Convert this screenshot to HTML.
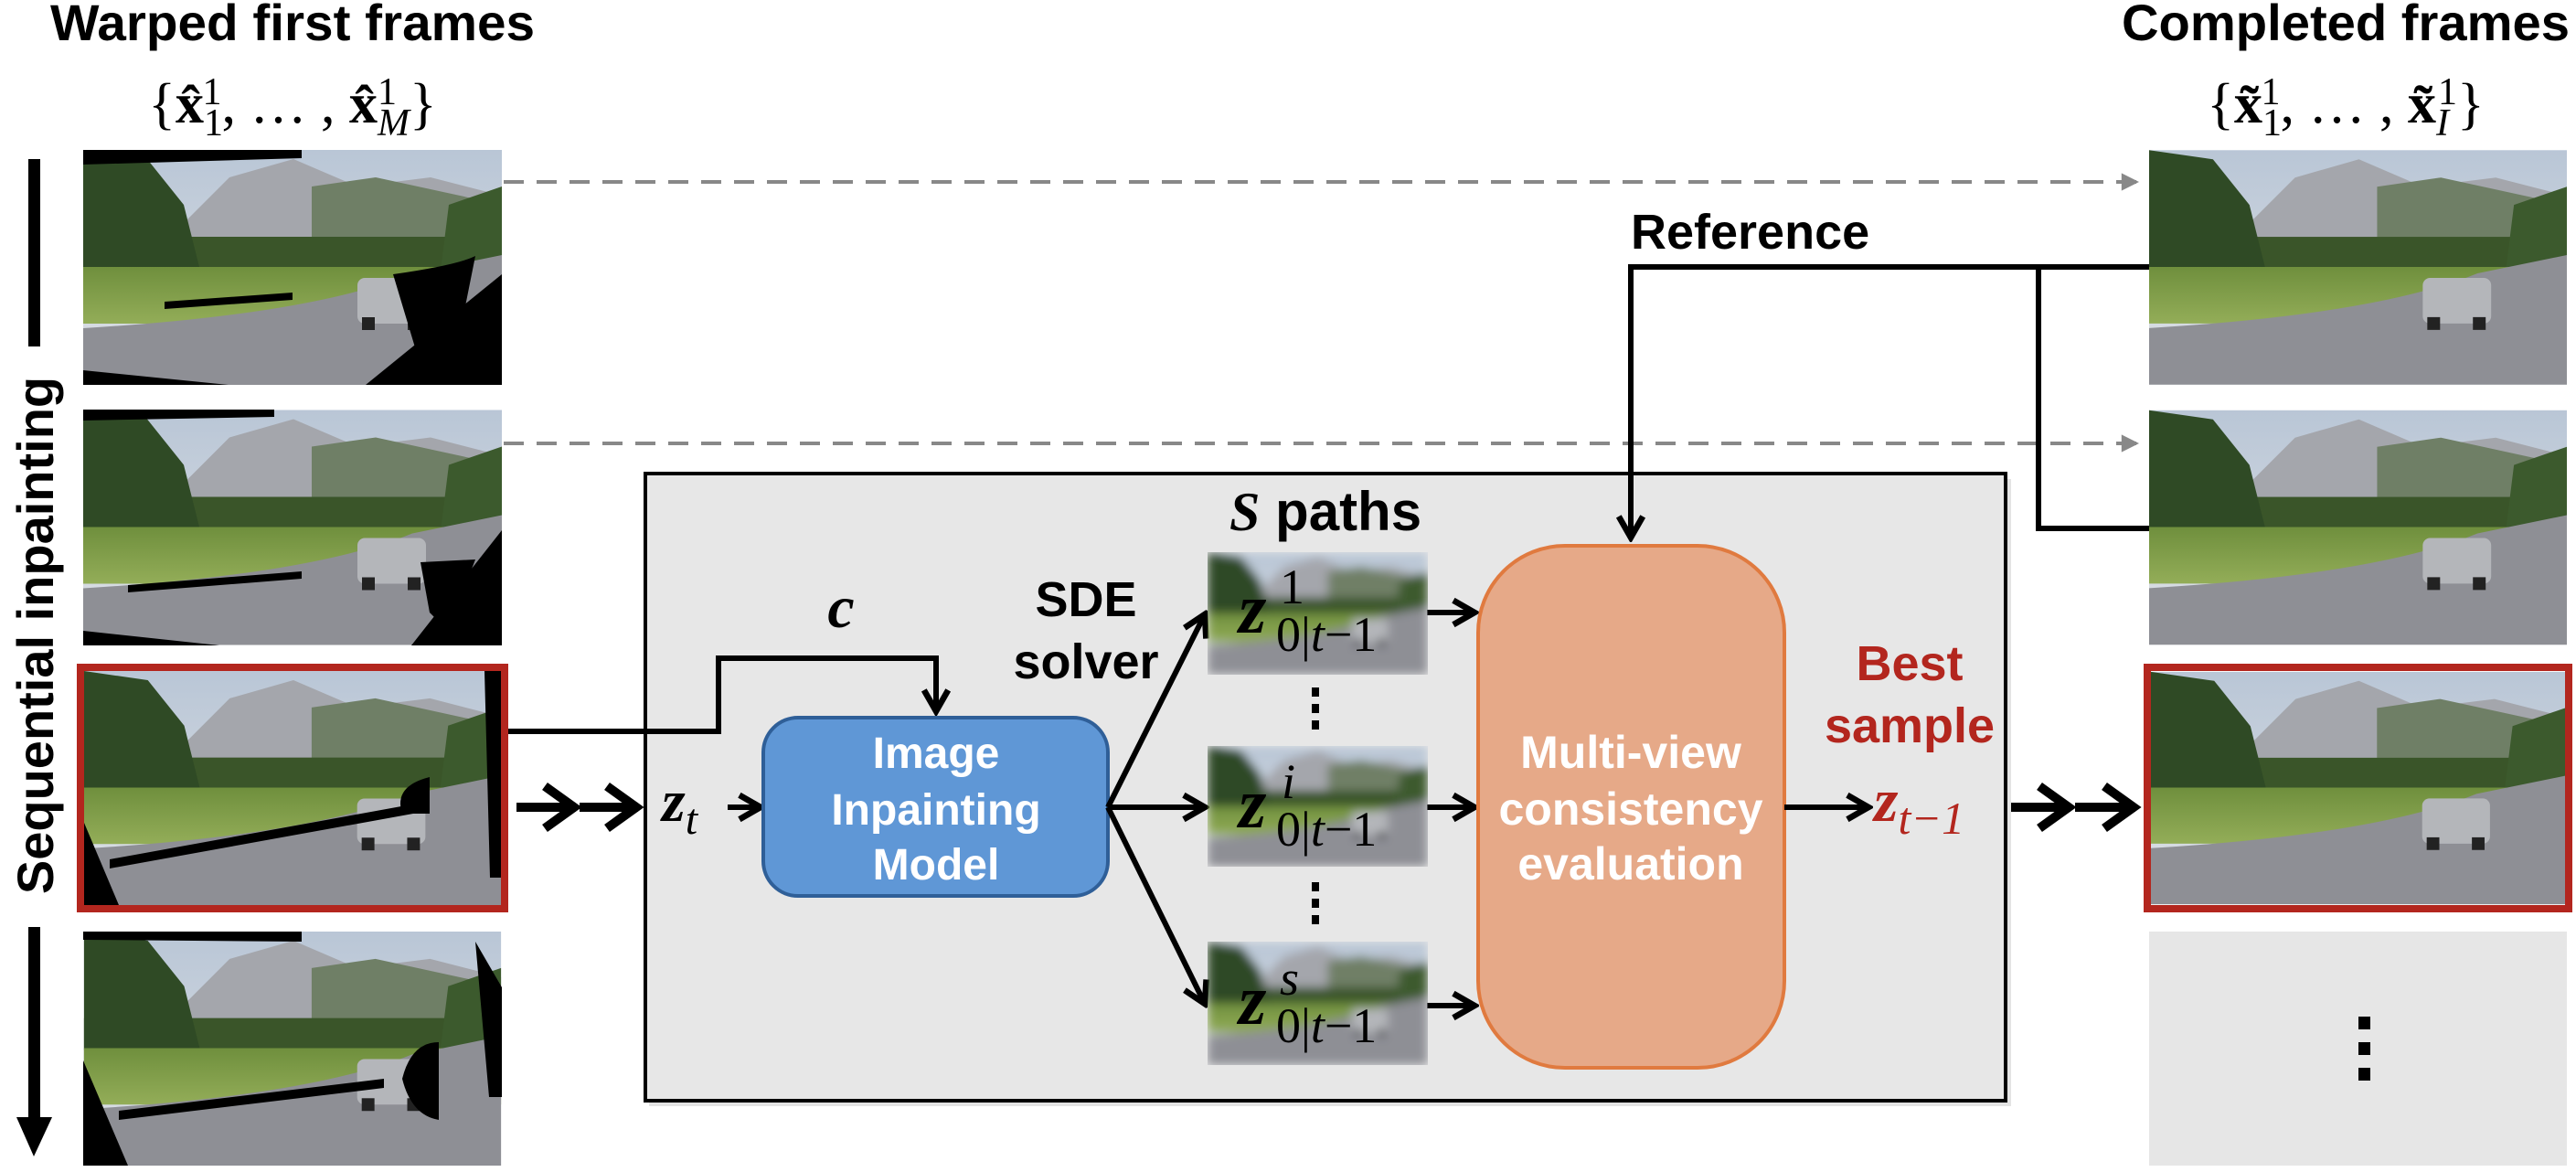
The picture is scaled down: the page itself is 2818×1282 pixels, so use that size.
<!DOCTYPE html>
<html><head><meta charset="utf-8"><style>
html,body{margin:0;padding:0;background:#fff;}
svg{display:block;font-weight:bold;}
text{font-family:"Liberation Sans",sans-serif;}
text.m,tspan.m{font-family:"Liberation Serif",serif;}
</style></head><body>
<svg width="2818" height="1282" viewBox="0 0 2818 1282" xmlns="http://www.w3.org/2000/svg">
<defs>
<linearGradient id="sky" x1="0" y1="0" x2="0" y2="1"><stop offset="0" stop-color="#b9c6d6"/><stop offset="1" stop-color="#dfe2e6"/></linearGradient>
<linearGradient id="grass" x1="0" y1="0" x2="0" y2="1"><stop offset="0" stop-color="#6f8f3d"/><stop offset="1" stop-color="#93ad58"/></linearGradient>
<symbol id="photo" viewBox="0 0 458 257">
<rect width="458" height="257" fill="url(#sky)"/>
<polygon points="80,110 160,30 230,10 300,40 380,30 458,50 458,120 80,120" fill="#a4a6ac"/>
<polygon points="250,40 320,30 458,60 458,120 250,120" fill="#6f7f66"/>
<rect x="0" y="95" width="458" height="35" fill="#3a5529"/>
<polygon points="0,0 70,10 110,60 130,140 0,150" fill="#2f4a25"/>
<polygon points="400,60 458,40 458,140 390,140" fill="#3c5a2d"/>
<rect x="0" y="128" width="458" height="62" fill="url(#grass)"/>
<path d="M0,195 Q250,180 360,135 L458,115 L458,257 L0,257 Z" fill="#8e8f95"/>
<rect x="300" y="140" width="75" height="50" rx="8" fill="#b4b6ba"/>
<rect x="305" y="183" width="14" height="14" fill="#222"/><rect x="355" y="183" width="14" height="14" fill="#222"/>
</symbol>
<filter id="bl" x="0" y="0" width="1" height="1"><feGaussianBlur stdDeviation="10" edgeMode="duplicate"/></filter>
<marker id="ah" viewBox="0 0 20 20" refX="17" refY="10" markerWidth="5.5" markerHeight="5.5" orient="auto" markerUnits="strokeWidth"><path d="M3,2 L17,10 L3,18" fill="none" stroke="#000" stroke-width="4"/></marker>
<marker id="ahg" viewBox="0 0 20 20" refX="18" refY="10" markerWidth="6" markerHeight="6" orient="auto" markerUnits="strokeWidth"><path d="M2,2 L18,10 L2,18 Z" fill="#888"/></marker>
</defs>

<!-- titles -->
<text x="320" y="44" font-size="56" text-anchor="middle" textLength="530" lengthAdjust="spacingAndGlyphs">Warped first frames</text>
<text class="m" x="320" y="134" font-size="62" text-anchor="middle" font-weight="normal">{<tspan font-weight="bold">x̂</tspan><tspan font-size="42" dy="14">1</tspan><tspan font-size="42" dy="-34" dx="-21">1</tspan><tspan dy="20">, … , </tspan><tspan font-weight="bold">x̂</tspan><tspan font-size="42" dy="14" font-style="italic">M</tspan><tspan font-size="42" dy="-34" dx="-35">1</tspan><tspan dy="20" dx="14">}</tspan></text>
<text x="2566" y="44" font-size="56" text-anchor="middle" textLength="490" lengthAdjust="spacingAndGlyphs">Completed frames</text>
<text class="m" x="2566" y="134" font-size="62" text-anchor="middle" font-weight="normal">{<tspan font-weight="bold">x̃</tspan><tspan font-size="42" dy="14">1</tspan><tspan font-size="42" dy="-34" dx="-21">1</tspan><tspan dy="20">, … , </tspan><tspan font-weight="bold">x̃</tspan><tspan font-size="42" dy="14" font-style="italic">I</tspan><tspan font-size="42" dy="-34" dx="-12">1</tspan><tspan dy="20">}</tspan></text>

<!-- sequential arrow -->
<rect x="31" y="174" width="13" height="205" fill="#000"/>
<rect x="31" y="1014" width="13" height="215" fill="#000"/>
<polygon points="18,1222 57,1222 37,1265" fill="#000"/>
<text x="0" y="0" font-size="56" text-anchor="middle" transform="translate(58,695) rotate(-90)">Sequential inpainting</text>

<!-- left frames -->
<use href="#photo" x="91" y="164" width="458" height="257"/>
<g fill="#000"><polygon points="91,164 330,164 330,173 91,180"/><polygon points="549,300 549,421 400,421"/><polygon points="91,405 250,421 91,421"/><path d="M430,300 Q500,290 520,280 L500,380 L460,400 Z"/><path d="M180,330 L320,320 L320,328 L180,338 Z"/></g>
<use href="#photo" x="91" y="448" width="458" height="258"/>
<g fill="#000"><polygon points="91,448 300,448 300,456 91,460"/><polygon points="549,580 549,706 450,706"/><polygon points="91,690 240,706 91,706"/><path d="M460,615 L520,612 L490,690 L470,670 Z"/><path d="M140,640 L330,625 L330,633 L140,648 Z"/></g>
<rect x="88" y="730" width="464" height="264" fill="none" stroke="#b3261e" stroke-width="8"/>
<use href="#photo" x="92" y="734" width="456" height="256"/>
<g fill="#000"><polygon points="530,734 548,734 548,960 536,960"/><polygon points="92,900 130,990 92,990"/><path d="M120,940 L450,880 L452,890 L120,950 Z"/><path d="M440,890 Q430,860 470,850 L470,890 Z"/></g>
<use href="#photo" x="91" y="1019" width="458" height="256"/>
<g fill="#000"><polygon points="91,1019 330,1019 330,1030 91,1028"/><polygon points="520,1030 549,1080 549,1200 535,1200"/><polygon points="91,1160 140,1275 91,1275"/><path d="M130,1215 L420,1180 L420,1190 L130,1225 Z"/><path d="M440,1180 Q450,1140 480,1140 L480,1225 Q450,1220 440,1180 Z"/></g>

<!-- right frames -->
<use href="#photo" x="2351" y="164" width="457" height="257"/>
<use href="#photo" x="2351" y="448" width="457" height="258"/>
<rect x="2349" y="730" width="461" height="264" fill="none" stroke="#b3261e" stroke-width="8"/>
<use href="#photo" x="2353" y="734" width="453" height="256"/>
<rect x="2351" y="1019" width="457" height="256" fill="#e6e6e6"/>
<g fill="#000"><rect x="2580" y="1112" width="13" height="14"/><rect x="2580" y="1140" width="13" height="14"/><rect x="2580" y="1168" width="13" height="14"/></g>

<!-- dashed arrows -->
<line x1="551" y1="199" x2="2340" y2="199" stroke="#888" stroke-width="4" stroke-dasharray="22,14" marker-end="url(#ahg)"/>
<line x1="551" y1="485" x2="2340" y2="485" stroke="#888" stroke-width="4" stroke-dasharray="22,14" marker-end="url(#ahg)"/>

<!-- gray box -->
<rect x="710" y="524" width="1490" height="686" fill="#c8c8c8" opacity="0.5"/>
<rect x="706" y="518" width="1488" height="686" fill="#e7e7e7" stroke="#000" stroke-width="4"/>

<!-- reference -->
<text x="1784" y="272" font-size="54">Reference</text>
<polyline points="2351,292 1784,292 1784,588" fill="none" stroke="#000" stroke-width="6" marker-end="url(#ah)"/>
<polyline points="2230,292 2230,578 2351,578" fill="none" stroke="#000" stroke-width="6"/>

<!-- c connector -->
<text class="m" x="920" y="686" font-size="66" font-style="italic" text-anchor="middle">c</text>
<polyline points="556,800 786,800 786,720 1024,720 1024,778" fill="none" stroke="#000" stroke-width="6" marker-end="url(#ah)"/>

<!-- double arrows -->
<g fill="none" stroke="#000" stroke-width="10">
<line x1="565" y1="883" x2="630" y2="883"/><polyline points="596,860 628,883 596,906"/>
<line x1="634" y1="883" x2="698" y2="883"/><polyline points="664,860 696,883 664,906"/>
<line x1="2200" y1="883" x2="2265" y2="883"/><polyline points="2231,860 2263,883 2231,906"/>
<line x1="2270" y1="883" x2="2336" y2="883"/><polyline points="2302,860 2334,883 2302,906"/>
</g>

<text class="m" x="724" y="898" font-size="66" font-style="italic">z<tspan font-size="48" dy="14" font-weight="normal">t</tspan></text>
<line x1="796" y1="883" x2="832" y2="883" stroke="#000" stroke-width="6" marker-end="url(#ah)"/>

<!-- blue box -->
<rect x="835" y="785" width="377" height="195" rx="38" fill="#5f97d6" stroke="#2f5f98" stroke-width="4"/>
<g fill="#fff" font-size="48" text-anchor="middle"><text x="1024" y="840">Image</text><text x="1024" y="902">Inpainting</text><text x="1024" y="962">Model</text></g>

<text x="1188" y="674" font-size="54" text-anchor="middle">SDE</text>
<text x="1188" y="742" font-size="54" text-anchor="middle">solver</text>
<text x="1345" y="580" font-size="60"><tspan class="m" font-style="italic">S</tspan> paths</text>

<!-- fan -->
<g stroke="#000" stroke-width="6" fill="none">
<line x1="1212" y1="883" x2="1318" y2="672" marker-end="url(#ah)"/>
<line x1="1212" y1="883" x2="1318" y2="883" marker-end="url(#ah)"/>
<line x1="1212" y1="883" x2="1318" y2="1098" marker-end="url(#ah)"/>
<line x1="1561" y1="670" x2="1613" y2="670" marker-end="url(#ah)"/>
<line x1="1561" y1="883" x2="1613" y2="883" marker-end="url(#ah)"/>
<line x1="1561" y1="1100" x2="1613" y2="1100" marker-end="url(#ah)"/>
</g>

<!-- thumbnails -->
<svg x="1321" y="604" width="241" height="134" viewBox="0 0 458 257" preserveAspectRatio="none"><use href="#photo" width="458" height="257" filter="url(#bl)"/></svg>
<svg x="1321" y="816" width="241" height="132" viewBox="0 0 458 257" preserveAspectRatio="none"><use href="#photo" width="458" height="257" filter="url(#bl)"/></svg>
<svg x="1321" y="1030" width="241" height="135" viewBox="0 0 458 257" preserveAspectRatio="none"><use href="#photo" width="458" height="257" filter="url(#bl)"/></svg>
<g>
<text class="m" x="1355" y="692" font-size="78" font-style="italic" font-weight="bold">z</text><text class="m" x="1400" y="660" font-size="54" font-weight="normal">1</text><text class="m" x="1396" y="712" font-size="54" font-weight="normal">0|<tspan font-style="italic">t</tspan>−1</text>
<text class="m" x="1355" y="905" font-size="78" font-style="italic" font-weight="bold">z</text><text class="m" x="1402" y="873" font-size="54" font-style="italic" font-weight="normal">i</text><text class="m" x="1396" y="925" font-size="54" font-weight="normal">0|<tspan font-style="italic">t</tspan>−1</text>
<text class="m" x="1355" y="1120" font-size="78" font-style="italic" font-weight="bold">z</text><text class="m" x="1400" y="1088" font-size="54" font-style="italic" font-weight="normal">s</text><text class="m" x="1396" y="1140" font-size="54" font-weight="normal">0|<tspan font-style="italic">t</tspan>−1</text>
</g>
<g fill="#000"><rect x="1435" y="752" width="8" height="10"/><rect x="1435" y="770" width="8" height="10"/><rect x="1435" y="788" width="8" height="10"/>
<rect x="1435" y="965" width="8" height="10"/><rect x="1435" y="983" width="8" height="10"/><rect x="1435" y="1001" width="8" height="10"/></g>

<!-- orange box -->
<rect x="1617" y="597" width="335" height="571" rx="95" fill="#e6a988" stroke="#e07a3f" stroke-width="4"/>
<g fill="#fff" font-size="50" text-anchor="middle"><text x="1784" y="840">Multi-view</text><text x="1784" y="902">consistency</text><text x="1784" y="962">evaluation</text></g>

<line x1="1952" y1="883" x2="2044" y2="883" stroke="#000" stroke-width="6" marker-end="url(#ah)"/>
<g fill="#b3261e"><text x="2089" y="744" font-size="54" text-anchor="middle">Best</text><text x="2089" y="812" font-size="54" text-anchor="middle">sample</text>
<text class="m" x="2050" y="898" font-size="68" font-style="italic">z<tspan font-size="50" dy="14" font-weight="normal">t−1</tspan></text></g>
</svg>
</body></html>
